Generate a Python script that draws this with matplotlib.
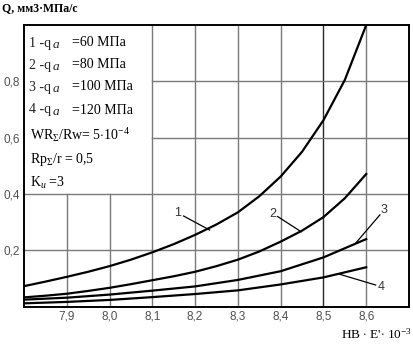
import matplotlib
matplotlib.use('Agg')
import matplotlib.pyplot as plt

#----------Data----------#

hb = [7.80, 7.85, 7.90, 7.95, 8.00, 8.05, 8.10, 8.15, 8.20, 8.25,
      8.30, 8.35, 8.40, 8.45, 8.50, 8.55, 8.60]
q_60 = [0.073, 0.089, 0.106, 0.124, 0.144, 0.167, 0.193, 0.222, 0.255, 0.292,
        0.335, 0.392, 0.462, 0.550, 0.662, 0.805, 1.000]
q_80 = [0.033, 0.039, 0.046, 0.056, 0.067, 0.080, 0.094, 0.108, 0.124, 0.144,
        0.167, 0.196, 0.231, 0.270, 0.318, 0.385, 0.471]

hb_coarse = [7.8, 7.9, 8.0, 8.1, 8.2, 8.3, 8.4, 8.5, 8.6]
q_100 = [0.025, 0.032, 0.043, 0.057, 0.072, 0.095, 0.126, 0.175, 0.240]
q_120 = [0.012, 0.017, 0.024, 0.034, 0.045, 0.058, 0.079, 0.104, 0.140]

x_ticks = [7.9, 8.0, 8.1, 8.2, 8.3, 8.4, 8.5, 8.6]
x_tick_labels = ['7,9', '8,0', '8,1', '8,2', '8,3', '8,4', '8,5', '8,6']
y_ticks = [0.2, 0.4, 0.6, 0.8]
y_tick_labels = ['0,2', '0,4', '0,6', '0,8']

# curve labels: text, label position, leader start, leader end
curve_labels = [
    ('1', (8.158, 0.333), (8.173, 0.322), (8.234, 0.272)),
    ('2', (8.382, 0.329), (8.393, 0.320), (8.448, 0.266)),
    ('3', (8.641, 0.343), (8.632, 0.326), (8.575, 0.225)),
    ('4', (8.634, 0.069), (8.622, 0.077), (8.536, 0.116)),
]

legend_left = ['1 -q', '2 -q', '3 -q', '4 -q']
legend_right = ['=60 МПа', '=80 МПа', '=100 МПа', '=120 МПа']
legend_extra = [r'WR$_{\Sigma}$/Rw= 5$\cdot$10$^{-4}$',
                r'Rp$_{\Sigma}$/r = 0,5',
                r'K$_{и}$ =3']

#----------Plot----------#

plt.rcParams['mathtext.fontset'] = 'custom'
plt.rcParams['mathtext.rm'] = 'Liberation Serif'
plt.rcParams['mathtext.it'] = 'Liberation Serif:italic'
plt.rcParams['mathtext.bf'] = 'Liberation Serif:bold'

W, H = 414, 346
fig = plt.figure(figsize=(W / 100, H / 100), dpi=100)
ax = fig.add_axes([24 / W, 1 - 306.7 / H, 385 / W, 281.7 / H])

ax.set_xlim(7.8, 8.7)
ax.set_ylim(0, 1.0)

grid_col = '#7a7a7a'
# vertical gridlines (hidden behind the text box in the upper left)
for x in x_ticks:
    top = 0.4 if x < 8.1 else 1.0
    col = '#2a2a2a' if x == 8.5 else grid_col
    ax.plot([x, x], [0, top], color=col, lw=1.0, zorder=1)
for y in y_ticks:
    left = 7.8 if y <= 0.4 else 8.1
    ax.plot([left, 8.7], [y, y], color=grid_col, lw=1.0, zorder=1)

ax.plot(hb, q_60, color='black', lw=1.6, zorder=3)
ax.plot(hb, q_80, color='black', lw=1.6, zorder=3)
ax.plot(hb_coarse, q_100, color='black', lw=1.6, zorder=3)
ax.plot(hb_coarse, q_120, color='black', lw=1.6, zorder=3)

for txt, pos, p0, p1 in curve_labels:
    ax.text(pos[0], pos[1], txt, ha='center', va='center', fontsize=9,
            family='Liberation Sans', color='#333333', zorder=4)
    ax.plot([p0[0], p1[0]], [p0[1], p1[1]], color='black', lw=0.9, zorder=4)

ax.set_xticks(x_ticks)
ax.set_xticklabels(x_tick_labels)
ax.set_yticks(y_ticks)
ax.set_yticklabels(y_tick_labels)
ax.tick_params(length=0, labelsize=8.5, labelcolor='#505050')
ax.tick_params(axis='x', pad=2.5)
ax.tick_params(axis='y', pad=3)
for lab in ax.get_xticklabels() + ax.get_yticklabels():
    lab.set_family('Liberation Sans')

for side in ['left', 'bottom', 'top', 'right']:
    ax.spines[side].set_linewidth(1.4)
    ax.spines[side].set_color('black')

def px(x, y):
    return x / W, 1 - y / H

# text box contents
rows_y = [43, 65, 87, 110]
for yy, l, r in zip(rows_y, legend_left, legend_right):
    fig.text(*px(29, yy), l, ha='left', va='center', fontsize=10,
             family='Liberation Serif', color='#222222')
    fig.text(*px(52.5, yy + 2), 'a', ha='left', va='center', fontsize=9.5,
             family='Liberation Serif', style='italic', color='#222222')
    fig.text(*px(72, yy), r, ha='left', va='center', fontsize=10,
             family='Liberation Serif')
for yy, t in zip([135, 160, 183], legend_extra):
    fig.text(*px(30, yy), t, ha='left', va='center', fontsize=10,
             family='Liberation Serif')

fig.text(*px(2, 8), 'Q, мм3·МПа/с', ha='left', va='center', fontsize=8.5,
         family='Liberation Serif', weight='bold')
fig.text(*px(412, 334), r"HB $\cdot$ E'$\cdot$ 10$^{-3}$", ha='right',
         va='center', fontsize=9.5, family='Liberation Serif')

fig.savefig('out.png', dpi=100)
